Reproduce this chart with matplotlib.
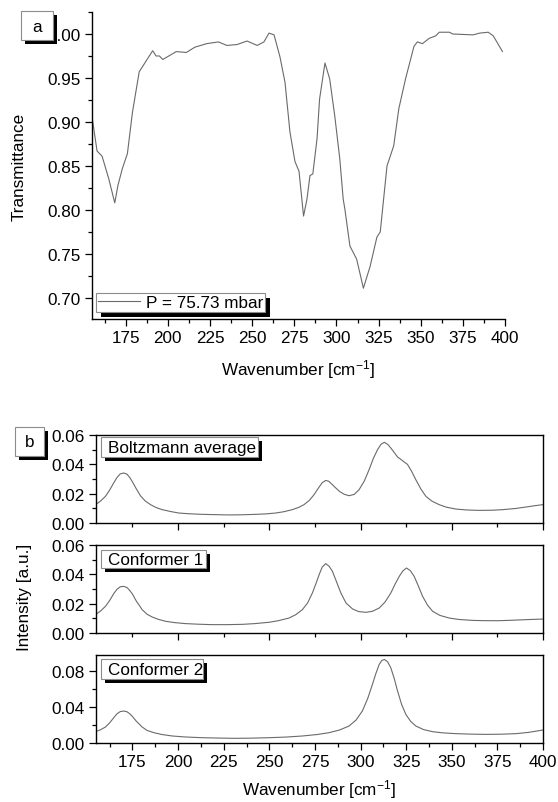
import matplotlib
matplotlib.use("Agg")
import matplotlib.pyplot as plt
from matplotlib.patches import Rectangle
from matplotlib.transforms import IdentityTransform
from matplotlib.ticker import MultipleLocator, FixedLocator, FormatStrFormatter

# ---------------- data ----------------
wn_a = [155, 158, 161, 165, 168.5, 170.4, 173, 176, 179, 183, 187, 191, 193, 195, 197,
        205, 211, 216, 223, 230, 235, 241, 247, 253, 257, 260, 263, 266.5, 269.5, 272.4,
        275.4, 277.8, 280.5, 282.5, 284.3, 286, 288.5, 290, 293.2, 296, 299, 302, 304,
        305, 308, 312, 316, 320, 324, 326, 328, 330, 334, 337, 341, 346, 348, 351, 355,
        359, 361, 367, 369, 381, 385, 390, 393, 398.5]
trans_a = [0.906, 0.867, 0.861, 0.835, 0.808, 0.828, 0.847, 0.864, 0.911, 0.957, 0.969,
           0.981, 0.975, 0.975, 0.971, 0.980, 0.979, 0.985, 0.989, 0.991, 0.987, 0.988,
           0.992, 0.987, 0.991, 1.001, 0.999, 0.974, 0.945, 0.889, 0.855, 0.844, 0.793,
           0.812, 0.839, 0.841, 0.881, 0.926, 0.967, 0.949, 0.907, 0.858, 0.8125, 0.801,
           0.759, 0.744, 0.711, 0.736, 0.769, 0.775, 0.8125, 0.850, 0.873, 0.915, 0.949,
           0.986, 0.991, 0.989, 0.995, 0.998, 1.002, 1.002, 1.000, 0.999, 1.001, 1.002,
           0.998, 0.980]
legend_a = "P = 75.73 mbar"

wn_boltz = [154.7, 157.5, 160.2, 162.5, 164.7, 166.5, 168.3, 170.2, 172, 173.5, 175, 177,
            179.4, 182, 184.9, 188, 191.3, 196, 200.4, 206, 213.2, 220, 227.9, 235, 242.5,
            248, 253.5, 258, 262.6, 266, 269, 272, 274.5, 277, 279, 280.9, 282.5, 284.5,
            286.4, 288.5, 291, 293.7, 296.5, 299.2, 302, 304.7, 307, 309.3, 311.3, 313.1,
            315, 316.6, 318.5, 320.3, 322.5, 324, 325.7, 328, 330.3, 333, 335.8, 339, 343.1,
            347, 352.3, 358, 365.1, 372, 377.9, 385, 390.7, 395, 399.8]
I_boltz = [0.0125, 0.0150, 0.0182, 0.0225, 0.0273, 0.0310, 0.0335, 0.0341, 0.0333, 0.0310,
           0.0280, 0.0235, 0.0185, 0.0150, 0.0125, 0.0105, 0.0091, 0.0078, 0.0068, 0.0063,
           0.0059, 0.0057, 0.0055, 0.0056, 0.0059, 0.0062, 0.0068, 0.0077, 0.0091, 0.0106,
           0.0125, 0.0155, 0.0193, 0.0240, 0.0275, 0.0290, 0.0285, 0.0262, 0.0239, 0.0215,
           0.0196, 0.0186, 0.0195, 0.0227, 0.0285, 0.0364, 0.0440, 0.0500, 0.0538, 0.0550,
           0.0535, 0.0511, 0.0480, 0.0450, 0.0430, 0.0415, 0.0400, 0.0352, 0.0295, 0.0233,
           0.0182, 0.0150, 0.0125, 0.0108, 0.0095, 0.0089, 0.0086, 0.0087, 0.0091, 0.0099,
           0.0109, 0.0117, 0.0125]

wn_conf1 = [154.7, 157.5, 160.2, 162.5, 164.7, 166.5, 168.3, 170.2, 172, 173.5, 175, 177,
            180.3, 183, 185.8, 189, 193.1, 198, 204.1, 211, 218.7, 227, 235.2, 242, 249.8,
            255, 260.8, 264.5, 268.1, 271, 273.6, 275.5, 277.3, 279, 280.9, 282.8, 284.6,
            286.5, 289.2, 292, 295.6, 299, 302.9, 306.5, 310.2, 313.5, 316.6, 319, 321.2,
            323.3, 325.2, 327.3, 329.4, 331.7, 334.0, 336.7, 339.5, 343.5, 348.6, 354,
            361.4, 368, 376.1, 383, 390.7, 395, 399.8]
I_conf1 = [0.0125, 0.0150, 0.0182, 0.0222, 0.0268, 0.0298, 0.0315, 0.0318, 0.0310, 0.0290,
           0.0265, 0.0220, 0.0159, 0.0128, 0.0109, 0.0094, 0.0080, 0.0071, 0.0064, 0.0060,
           0.0057, 0.0057, 0.0059, 0.0064, 0.0073, 0.0084, 0.0102, 0.0125, 0.0159, 0.0205,
           0.0273, 0.0335, 0.0398, 0.0450, 0.0473, 0.0455, 0.0420, 0.0360, 0.0273, 0.0205,
           0.0164, 0.0146, 0.0141, 0.0148, 0.0170, 0.0212, 0.0273, 0.0335, 0.0386, 0.0425,
           0.0443, 0.0425, 0.0386, 0.0320, 0.0250, 0.0190, 0.0148, 0.0120, 0.0102, 0.0092,
           0.0086, 0.0084, 0.0084, 0.0087, 0.0091, 0.0093, 0.0095]

wn_conf2 = [154.7, 157.5, 160.2, 162.5, 164.7, 166.5, 168.3, 170.2, 172, 173.5, 175, 177,
            180.3, 183, 186.7, 191, 196.8, 204, 213.2, 222, 231.5, 240, 249.8, 259, 268.1,
            276, 282.8, 288.5, 293.7, 297.5, 301.0, 304, 306.5, 308.5, 310.2, 311.7, 313.1,
            314.8, 316.6, 318.5, 320.3, 322.5, 324.8, 327.5, 330.3, 334.5, 339.5, 345,
            352.3, 360, 368.7, 377, 385.2, 392, 399.8]
I_conf2 = [0.0126, 0.0148, 0.0178, 0.0225, 0.0281, 0.0325, 0.0350, 0.0356, 0.0348, 0.0325,
           0.0295, 0.0245, 0.0178, 0.0140, 0.0115, 0.0095, 0.0078, 0.0067, 0.0059, 0.0055,
           0.0052, 0.0054, 0.0059, 0.0066, 0.0078, 0.0094, 0.0115, 0.0145, 0.0189, 0.0255,
           0.0356, 0.0500, 0.0652, 0.0780, 0.0874, 0.0920, 0.0930, 0.0905, 0.0837, 0.0715,
           0.0578, 0.0430, 0.0319, 0.0240, 0.0189, 0.0150, 0.0126, 0.0113, 0.0104, 0.0099,
           0.0096, 0.0098, 0.0104, 0.0118, 0.0144]

panel_b_labels = ["Boltzmann average", "Conformer 1", "Conformer 2"]

# ---------------- style ----------------
plt.rcParams['font.family'] = ['Liberation Sans', 'DejaVu Sans']
plt.rcParams['mathtext.fontset'] = 'custom'
plt.rcParams['mathtext.rm'] = 'Liberation Sans'
plt.rcParams['mathtext.it'] = 'Liberation Sans'
FS = 12.3
LC = '#6a6a6a'
W, H = 558, 803
fig = plt.figure(figsize=(W / 100, H / 100), dpi=100)


def frac(x0, y0, x1, y1):
    """pixel box (top-left origin) -> figure fraction rect"""
    return [x0 / W, 1 - y1 / H, (x1 - x0) / W, (y1 - y0) / H]


def style_ticks(ax):
    ax.tick_params(which='major', direction='out', length=5, width=0.9,
                   labelsize=FS, pad=3)
    ax.tick_params(which='minor', direction='out', length=2.8, width=0.9)


def shadow_box(x0, y0, x1, y1, text, ha='left', off=4):
    fig.add_artist(Rectangle(((x0 + off) / W, 1 - (y1 + off) / H), (x1 - x0) / W,
                             (y1 - y0) / H, transform=fig.transFigure,
                             facecolor='black', edgecolor='none', zorder=10))
    fig.add_artist(Rectangle((x0 / W, 1 - y1 / H), (x1 - x0) / W, (y1 - y0) / H,
                             transform=fig.transFigure, facecolor='white',
                             edgecolor='#8c8c8c', linewidth=0.8, zorder=11))
    if ha == 'center':
        tx = (x0 + x1) / 2
    else:
        tx = x0 + 7
    fig.text(tx / W, 1 - ((y0 + y1) / 2 + 0.5) / H, text, ha=ha, va='center',
             fontsize=FS, zorder=12)


# ---------------- panel a ----------------
axa = fig.add_axes(frac(92, 13, 505, 320))
axa.plot(wn_a, trans_a, color=LC, lw=0.8, label=legend_a)
axa.set_xlim(155, 400)
axa.set_ylim(0.676, 1.025)
axa.spines['top'].set_visible(False)
axa.spines['right'].set_visible(False)
for s in ('left', 'bottom'):
    axa.spines[s].set_linewidth(1.0)
axa.xaxis.set_major_locator(FixedLocator([175, 200, 225, 250, 275, 300, 325, 350, 375, 400]))
axa.xaxis.set_minor_locator(MultipleLocator(12.5))
axa.yaxis.set_major_locator(MultipleLocator(0.05))
axa.yaxis.set_minor_locator(MultipleLocator(0.025))
axa.yaxis.set_major_formatter(FormatStrFormatter('%.2f'))
style_ticks(axa)
axa.set_ylabel('Transmittance', fontsize=FS)
axa.yaxis.label.set_va('center')
axa.yaxis.set_label_coords((19 - 92) / 413, 0.5)
axa.set_xlabel('Wavenumber [cm$^{-1}$]', fontsize=FS)
axa.xaxis.label.set_va('center')
axa.xaxis.set_label_coords(0.5, (320 - 370) / 307)

leg = axa.legend(loc='lower left', bbox_to_anchor=(96 / W, 1 - 313 / H),
                 bbox_transform=fig.transFigure, fontsize=FS, frameon=True,
                 fancybox=False, borderpad=0.12, borderaxespad=0, handlelength=2.45,
                 handletextpad=0.35, framealpha=1)
leg.get_frame().set_edgecolor('#8c8c8c')
leg.get_frame().set_linewidth(0.8)

# ---------------- panel b ----------------
rects = [frac(96, 436, 543, 524), frac(96, 546, 543, 634), frac(96, 656, 543, 744)]
xs = [wn_boltz, wn_conf1, wn_conf2]
ys = [I_boltz, I_conf1, I_conf2]
axes_b = []
for i in range(3):
    ax = fig.add_axes(rects[i])
    ax.plot(xs[i], ys[i], color=LC, lw=0.8)
    ax.set_xlim(155, 400)
    for s in ax.spines.values():
        s.set_linewidth(1.0)
    if i < 2:
        ax.set_ylim(0, 0.06)
        ax.yaxis.set_major_locator(MultipleLocator(0.02))
        ax.yaxis.set_minor_locator(MultipleLocator(0.01))
        ax.xaxis.set_major_locator(FixedLocator([200, 250, 300, 350, 400]))
        ax.xaxis.set_minor_locator(FixedLocator([175, 225, 275, 325, 375]))
        ax.tick_params(axis='x', labelbottom=False)
    else:
        ax.set_ylim(0, 0.098)
        ax.yaxis.set_major_locator(MultipleLocator(0.04))
        ax.yaxis.set_minor_locator(MultipleLocator(0.02))
        ax.xaxis.set_major_locator(FixedLocator([175, 200, 225, 250, 275, 300, 325, 350, 375, 400]))
        ax.xaxis.set_minor_locator(MultipleLocator(12.5))
    ax.yaxis.set_major_formatter(FormatStrFormatter('%.2f'))
    style_ticks(ax)
    axes_b.append(ax)

axes_b[2].set_xlabel('Wavenumber [cm$^{-1}$]', fontsize=FS)
axes_b[2].xaxis.label.set_va('center')
axes_b[2].xaxis.set_label_coords(0.5, (744 - 790) / 88)
fig.text(24 / W, 1 - 597 / H, 'Intensity [a.u.]', rotation=90, ha='center',
         va='center', fontsize=FS)

# text boxes with shadows
shadow_box(101, 438, 258, 458, panel_b_labels[0])
shadow_box(101, 551, 206, 569, panel_b_labels[1])
shadow_box(101, 660, 203, 680, panel_b_labels[2])
shadow_box(21, 12, 53, 41, 'a', ha='center')
shadow_box(15, 428, 44, 457, 'b', ha='center')

# legend shadow
fig.canvas.draw()
bb = leg.get_frame().get_window_extent()
axa.add_patch(Rectangle((bb.x0 + 5, bb.y0 - 5), bb.width, bb.height,
                        transform=IdentityTransform(), facecolor='black',
                        edgecolor='none', zorder=4.9, clip_on=False))

fig.savefig('out.png', dpi=100)
